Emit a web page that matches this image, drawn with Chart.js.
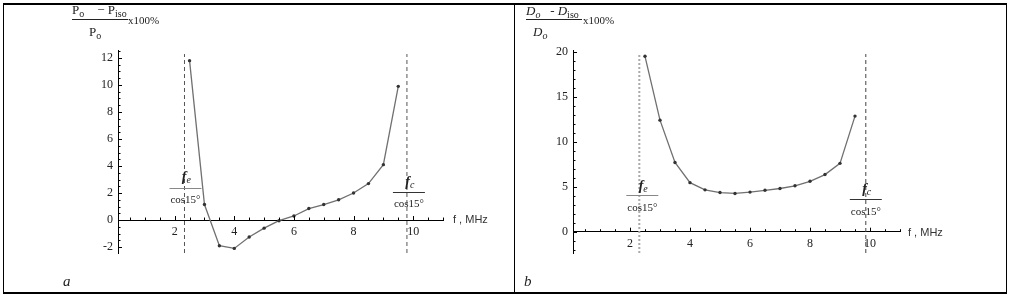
<!DOCTYPE html>
<html>
<head>
<meta charset="utf-8">
<script src="https://cdn.jsdelivr.net/npm/chart.js@4.4.1/dist/chart.umd.min.js"></script>
<style>
body{margin:0;background:#fff;width:1011px;height:297px;position:relative;overflow:hidden;font-family:"Liberation Serif",serif;color:#222}
.frame{position:absolute;left:3px;top:3px;width:1002px;height:287px;border-top:2px solid #000;border-bottom:2px solid #000;border-left:1px solid #000;border-right:1px solid #000}
.divider{position:absolute;left:514px;top:4px;width:1px;height:288px;background:#000}
.panel{position:absolute;top:4px}
.t{position:absolute;white-space:nowrap;line-height:1}
.num{font-size:13px}
.num sub{font-size:10px;vertical-align:-3px}
.bar{position:absolute;height:0;border-top:1px solid #222}
.pct{font-size:11px}
.unit{font-family:"Liberation Sans",sans-serif;font-size:11px;color:#333}
.tag{font-style:italic;font-size:15px}
</style>
</head>
<body>
<div class="frame"></div>
<div class="divider"></div>

<div class="panel" style="left:4px"><canvas id="chartA" width="510" height="288"></canvas></div>
<div class="panel" style="left:516px"><canvas id="chartB" width="490" height="288"></canvas></div>

<!-- panel a labels -->
<span class="t num" style="left:72px;top:3px">P<sub>o</sub>&nbsp;&nbsp;&nbsp; − P<sub>iso</sub></span>
<div class="bar" style="left:72px;top:19px;width:56px"></div>
<span class="t pct" style="left:128px;top:15px">x100%</span>
<span class="t num" style="left:89px;top:25px">P<sub>o</sub></span>
<span class="t unit" style="left:453px;top:214px">f , MHz</span>
<span class="t tag" style="left:63px;top:274px">a</span>

<!-- panel b labels -->
<span class="t num" style="left:526px;top:4px;font-style:italic">D<sub>o</sub>&nbsp;&nbsp; - D<sub style="font-style:normal">iso</sub></span>
<div class="bar" style="left:526px;top:19px;width:56px"></div>
<span class="t pct" style="left:583px;top:15px">x100%</span>
<span class="t num" style="left:533px;top:25px;font-style:italic">D<sub>o</sub></span>
<span class="t unit" style="left:908px;top:227px">f , MHz</span>
<span class="t tag" style="left:524px;top:274px">b</span>

<script>
// frequencies, MHz
const freqA = [2.5, 3, 3.5, 4, 4.5, 5, 5.5, 6, 6.5, 7, 7.5, 8, 8.5, 9, 9.5];
const freqB = [2.5, 3, 3.5, 4, 4.5, 5, 5.5, 6, 6.5, 7, 7.5, 8, 8.5, 9, 9.5];
// (P0 - Piso)/P0 x100%
const errorP = [11.8, 1.15, -1.9, -2.1, -1.25, -0.6, -0.05, 0.3, 0.85, 1.15, 1.5, 2.0, 2.7, 4.1, 9.9];
// (D0 - Diso)/D0 x100%
const errorD = [19.5, 12.4, 7.7, 5.45, 4.65, 4.35, 4.25, 4.4, 4.6, 4.8, 5.1, 5.6, 6.35, 7.6, 12.85];

const xTicks = [2, 4, 6, 8, 10];
const yTicksA = [-2, 0, 2, 4, 6, 8, 10, 12];
const yTicksB = [0, 5, 10, 15, 20];

// fe/cos15, fc/cos15
const limitsA = [2.33, 9.79];
const limitsB = [2.31, 9.86];

// mathematica style ticks, pointing into the plot
const axisTicks = {
  id: 'axisTicks',
  afterDraw(chart, args, o) {
    const {ctx, scales: {x, y}} = chart;
    const y0 = y.getPixelForValue(0);
    const x0 = chart.chartArea.left;
    ctx.save();
    ctx.strokeStyle = '#000';
    ctx.lineWidth = 1;
    ctx.beginPath();
    for (let i = Math.ceil(x.min / o.xMinor); i * o.xMinor <= x.max; i++) {
      let v = i * o.xMinor;
      let major = Math.abs(v / o.xMajor - Math.round(v / o.xMajor)) < 1e-6;
      let px = Math.round(x.getPixelForValue(v)) + 0.5;
      ctx.moveTo(px, y0);
      ctx.lineTo(px, y0 - (major ? 4 : 2.5));
    }
    for (let i = Math.ceil(y.min / o.yMinor); i * o.yMinor <= y.max; i++) {
      let v = i * o.yMinor;
      let major = Math.abs(v / o.yMajor - Math.round(v / o.yMajor)) < 1e-6;
      let py = Math.round(y.getPixelForValue(v)) + 0.5;
      ctx.moveTo(x0, py);
      ctx.lineTo(x0 + (major ? 4 : 2.5), py);
    }
    ctx.stroke();
    ctx.restore();
  }
};

// f/cos15 labels next to the dashed lines
const limitLabels = {
  id: 'limitLabels',
  afterDraw(chart, args, o) {
    const {ctx, scales: {x, y}} = chart;
    const y0 = y.getPixelForValue(0);
    ctx.save();
    o.items.forEach(it => {
      let cx = x.getPixelForValue(it.at) + it.dx;
      ctx.textBaseline = 'middle';
      ctx.fillStyle = '#222';
      ctx.font = 'italic bold 14px "Liberation Serif"';
      ctx.textAlign = 'right';
      ctx.fillText('f', cx + 1, y0 + it.top);
      ctx.font = 'italic 10px "Liberation Serif"';
      ctx.textAlign = 'left';
      ctx.fillText(it.sub, cx + 1, y0 + it.top + 3);
      ctx.strokeStyle = it.barColor;
      ctx.lineWidth = 1;
      ctx.beginPath();
      ctx.moveTo(cx - 16, Math.round(y0 + it.bar) + 0.5);
      ctx.lineTo(cx + 16, Math.round(y0 + it.bar) + 0.5);
      ctx.stroke();
      ctx.font = '11px "Liberation Serif"';
      ctx.textAlign = 'center';
      ctx.fillText('cos15°', cx, y0 + it.low);
    });
    ctx.restore();
  }
};

function makeChart(id, freq, vals, limits, yTicks, yMin, yMax, yMajor, yMinor, pad, dashStyles, labels) {
  let datasets = [{
    data: freq.map((f, i) => ({x: f, y: vals[i]})),
    showLine: true,
    borderColor: '#707070',
    borderWidth: 1.3,
    pointRadius: 1.7,
    pointBackgroundColor: '#333',
    pointBorderWidth: 0
  }];
  limits.forEach((f, i) => {
    datasets.push({
      data: [{x: f, y: yMin}, {x: f, y: yMax - (yMax - yMin) * 0.02}],
      showLine: true,
      pointRadius: 0,
      borderColor: dashStyles[i].color,
      borderWidth: dashStyles[i].width,
      borderDash: dashStyles[i].dash
    });
  });

  return new Chart(document.getElementById(id), {
    type: 'scatter',
    data: {datasets: datasets},
    options: {
      responsive: false,
      animation: false,
      layout: {padding: pad},
      plugins: {
        legend: {display: false},
        tooltip: {enabled: false},
        axisTicks: {xMajor: 2, xMinor: 0.5, yMajor: yMajor, yMinor: yMinor},
        limitLabels: {items: labels}
      },
      scales: {
        x: {
          type: 'linear',
          min: 0.1,
          max: 11,
          position: {y: 0},
          afterBuildTicks: s => { s.ticks = xTicks.map(v => ({value: v})); },
          afterFit: s => { s.height = 0; },
          grid: {display: false, drawTicks: false},
          border: {display: true, color: '#000', width: 1},
          ticks: {padding: 5, color: '#222', autoSkip: false, maxRotation: 0,
                  font: {family: 'Liberation Serif', size: 12}}
        },
        y: {
          type: 'linear',
          min: yMin,
          max: yMax,
          position: 'left',
          afterBuildTicks: s => { s.ticks = yTicks.map(v => ({value: v})); },
          afterFit: s => { s.width = 30; },
          grid: {display: false, drawTicks: false},
          border: {display: true, color: '#000', width: 1},
          ticks: {padding: 5, color: '#222', autoSkip: false,
                  font: {family: 'Liberation Serif', size: 12}}
        }
      }
    },
    plugins: [axisTicks, limitLabels]
  });
}

makeChart('chartA', freqA, errorP, limitsA, yTicksA, -2.44, 12.59, 2, 0.5,
  {left: 84, right: 71, top: 46, bottom: 39},
  [{color: '#555', width: 1, dash: [4, 3]}, {color: '#555', width: 1, dash: [4, 3]}],
  [{at: limitsA[0], dx: 1, sub: 'e', top: -43, bar: -32, low: -20, barColor: '#888'},
   {at: limitsA[1], dx: 2, sub: 'c', top: -38, bar: -28, low: -16, barColor: '#333'}]);

makeChart('chartB', freqB, errorD, limitsB, yTicksB, -2.37, 20.2, 5, 1,
  {left: 27, right: 106, top: 46, bottom: 39},
  [{color: '#aaa', width: 2, dash: [2, 2]}, {color: '#444', width: 1, dash: [4, 3]}],
  [{at: limitsB[0], dx: 3, sub: 'e', top: -45, bar: -37, low: -24, barColor: '#888'},
   {at: limitsB[1], dx: 0, sub: 'c', top: -42, bar: -33, low: -20, barColor: '#333'}]);
</script>
</body>
</html>
